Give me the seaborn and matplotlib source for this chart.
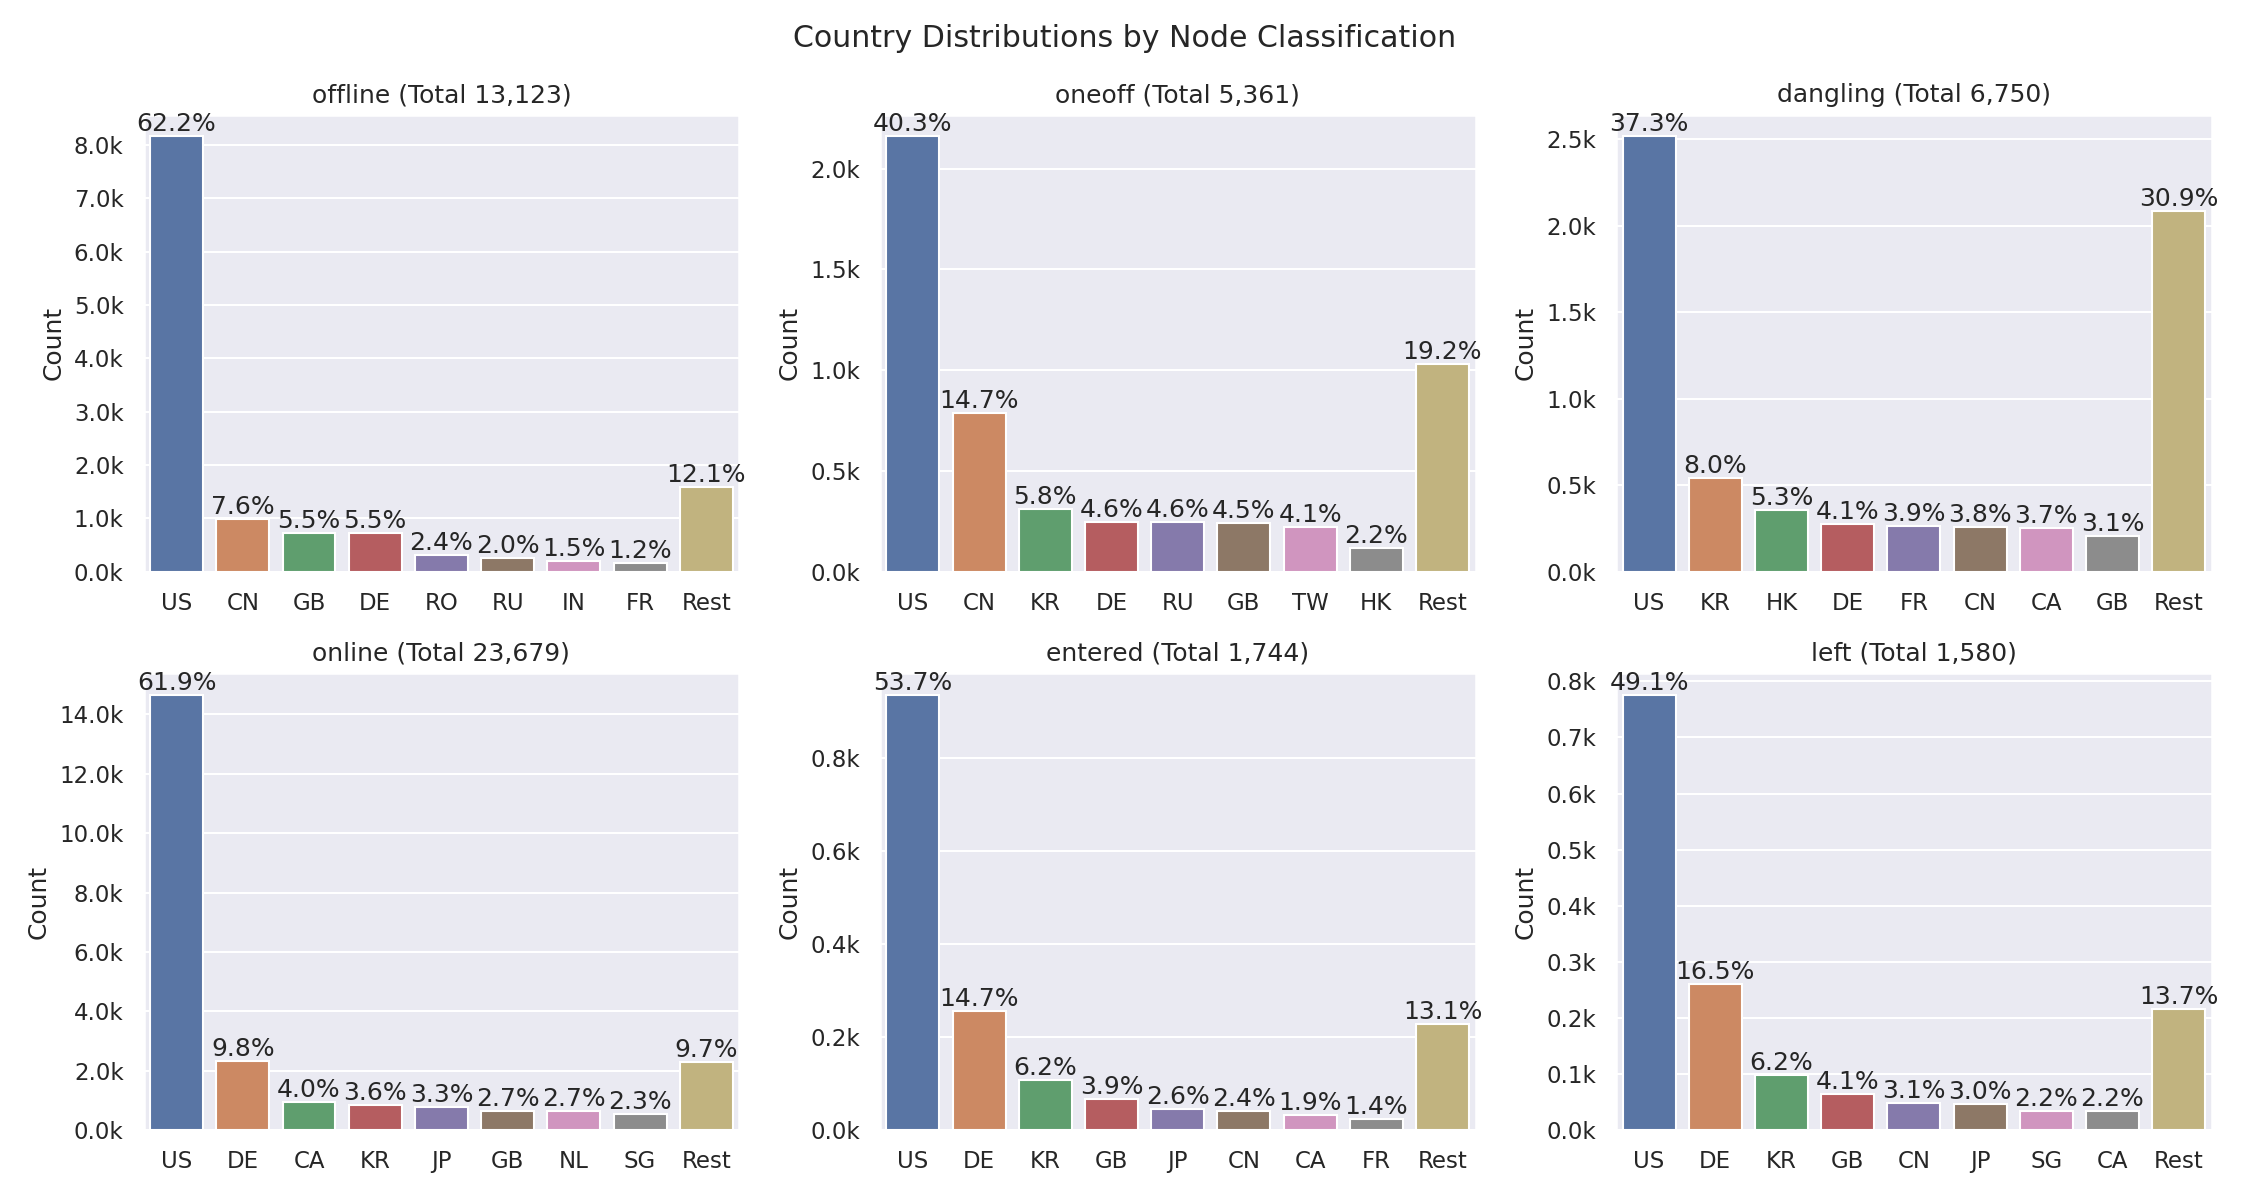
import numpy as np
import pandas as pd
import seaborn as sns
import matplotlib.pyplot as plt
from matplotlib.ticker import FuncFormatter


# node classes, in the order of the grid (row by row)
classes = ["offline", "oneoff", "dangling", "online", "entered", "left"]
totals = [13123, 5361, 6750, 23679, 1744, 1580]

# top countries per class, plus the rest
offline_countries = ["US", "CN", "GB", "DE", "RO", "RU", "IN", "FR", "Rest"]
offline_counts = [8163, 997, 722, 720, 315, 262, 197, 157, 1590]

oneoff_countries = ["US", "CN", "KR", "DE", "RU", "GB", "TW", "HK", "Rest"]
oneoff_counts = [2160, 788, 311, 247, 247, 241, 220, 118, 1029]

dangling_countries = ["US", "KR", "HK", "DE", "FR", "CN", "CA", "GB", "Rest"]
dangling_counts = [2518, 540, 358, 277, 263, 257, 250, 209, 2086]

online_countries = ["US", "DE", "CA", "KR", "JP", "GB", "NL", "SG", "Rest"]
online_counts = [14657, 2321, 947, 852, 781, 639, 639, 545, 2297]

entered_countries = ["US", "DE", "KR", "GB", "JP", "CN", "CA", "FR", "Rest"]
entered_counts = [937, 256, 108, 68, 45, 42, 33, 24, 228]

left_countries = ["US", "DE", "KR", "GB", "CN", "JP", "SG", "CA", "Rest"]
left_counts = [776, 261, 98, 65, 49, 47, 35, 35, 216]

countries = [offline_countries, oneoff_countries, dangling_countries,
             online_countries, entered_countries, left_countries]
counts = [offline_counts, oneoff_counts, dangling_counts,
          online_counts, entered_counts, left_counts]


sns.set_theme(style="darkgrid")

fig, axes = plt.subplots(2, 3, figsize=(15, 8), dpi=150)

for ax, name, total, ctry, cnt in zip(axes.flat, classes, totals, countries, counts):
    df = pd.DataFrame({"country": ctry, "count": cnt})
    sns.barplot(data=df, x="country", y="count", hue="country",
                palette="deep", legend=False, ax=ax)

    # percentage of the class total on top of every bar
    for container, c in zip(ax.containers, cnt):
        ax.bar_label(container, labels=[f"{c / total * 100:.1f}%"], fontsize=12)

    ax.yaxis.set_major_formatter(FuncFormatter(lambda v, _: f"{v / 1000:.1f}k"))
    ax.set_title(f"{name} (Total {total:,})")
    ax.set_xlabel("")
    ax.set_ylabel("Count")

fig.suptitle("Country Distributions by Node Classification", fontsize=14.4)
plt.tight_layout()
plt.savefig("out.png")
